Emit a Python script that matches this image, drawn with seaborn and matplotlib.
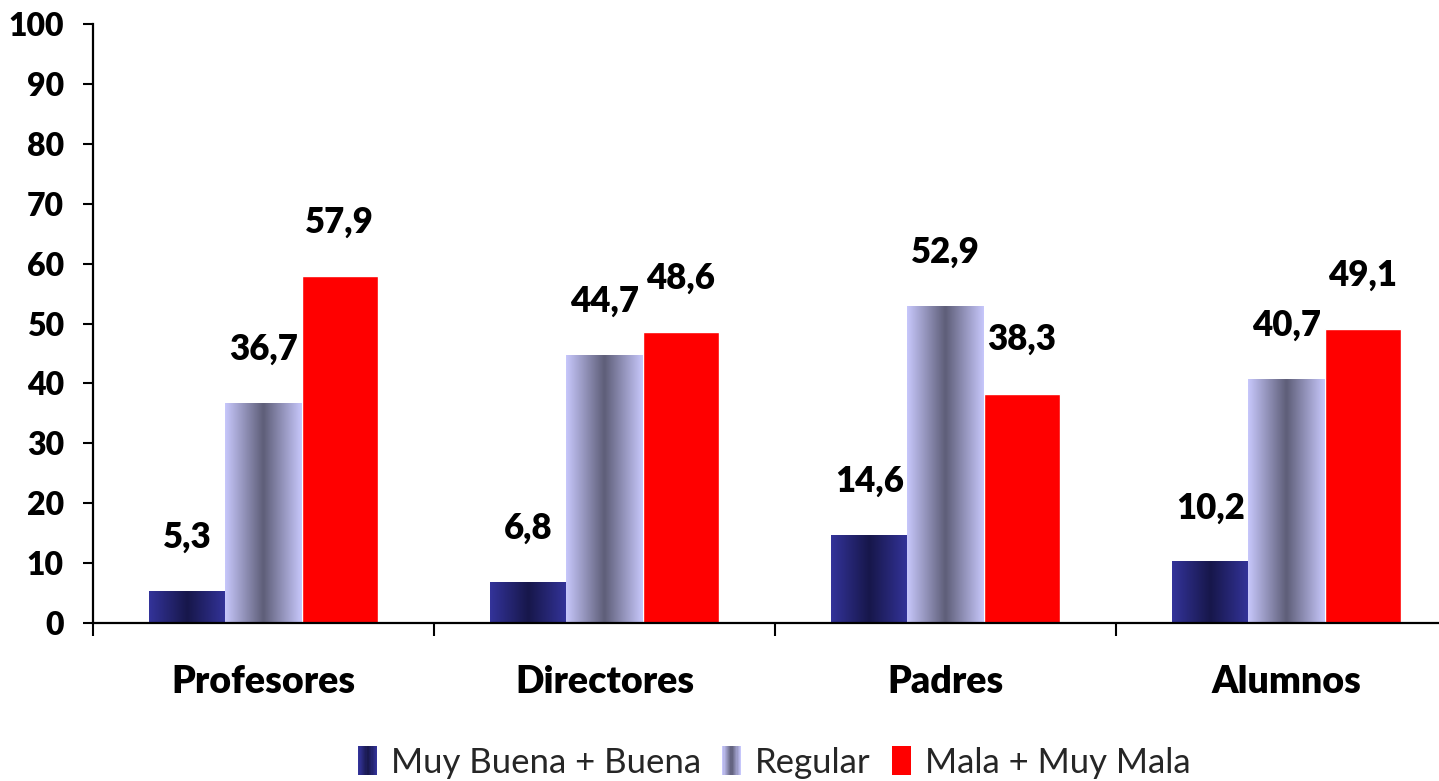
import numpy as np
import pandas as pd
import seaborn as sns
import matplotlib
matplotlib.use("Agg")
import matplotlib.pyplot as plt
from matplotlib.colors import to_rgb
from matplotlib.legend_handler import HandlerBase
from matplotlib.patches import Rectangle

categories = ["Profesores", "Directores", "Padres", "Alumnos"]
series = ["Muy Buena + Buena", "Regular", "Mala + Muy Mala"]
muy_buena = [5.3, 6.8, 14.6, 10.2]
regular = [36.7, 44.7, 52.9, 40.7]
mala = [57.9, 48.6, 38.3, 49.1]
yticks = list(range(0, 101, 10))

# gradient styles: (edge colour, centre colour) or None for plain
grad_specs = [("#333399", "#17174a"), ("#c6c6fa", "#5e5e78"), None]
flat_colors = ["#2a2a80", "#9a9ac0", "#ff0000"]

df = pd.DataFrame({
    "cat": categories * 3,
    "serie": [s for s in series for _ in categories],
    "val": muy_buena + regular + mala,
})

sns.set_theme(style="white")
plt.rcParams["font.family"] = ["Lato", "DejaVu Sans"]


def grad_colors(spec, n=64):
    e = np.array(to_rgb(spec[0]))
    c = np.array(to_rgb(spec[1]))
    t = np.linspace(0, 1, n)
    w = 1 - np.abs(2 * t - 1)
    return e[None, :] * (1 - w[:, None]) + c[None, :] * w[:, None]


fig = plt.figure(figsize=(14.39, 7.81), dpi=100)
ax = fig.add_axes([93 / 1439, 158 / 781, 1 - 93 / 1439, 599 / 781])

sns.barplot(data=df, x="cat", y="val", hue="serie", order=categories,
            hue_order=series, palette=flat_colors, width=0.67, gap=0,
            saturation=1, legend=False, ax=ax, zorder=2)

for i, cont in enumerate(ax.containers):
    spec = grad_specs[i]
    for bar in cont:
        x, w, h = bar.get_x(), bar.get_width(), bar.get_height()
        if spec is not None:
            img = grad_colors(spec)[None, :, :]
            ax.imshow(img, extent=[x, x + w, 0, h], aspect="auto",
                      interpolation="bilinear", zorder=3)
            bar.set_alpha(0)
        ax.text(x + w / 2, h + 9, f"{h:.1f}".replace(".", ","),
                ha="center", va="center", fontsize=25, fontweight="heavy",
                color="black", zorder=5)

ax.set_yticks(yticks)
ax.set_yticklabels([str(v) for v in yticks], fontsize=23, fontweight="heavy")
ax.set_xticks(range(len(categories)))
ax.set_xticklabels(categories, fontsize=27, fontweight="heavy")
ax.set_xticks([k - 0.5 for k in range(len(categories) + 1)], minor=True)
ax.set_xlim(-0.5, -0.5 + (1439 - 93) / 341)
ax.set_ylim(0, 100)
ax.set_autoscale_on(False)
ax.tick_params(axis="x", which="major", length=0, pad=30, colors="black")
ax.tick_params(axis="x", which="minor", length=9, width=1.5, direction="out",
               bottom=True, color="black")
ax.tick_params(axis="y", which="major", length=7, width=1.5, direction="out",
               left=True, pad=14, colors="black")
ax.set_xlabel("")
ax.set_ylabel("")
for s in ["top", "right"]:
    ax.spines[s].set_visible(False)
for s in ["left", "bottom"]:
    ax.spines[s].set_color("black")
    ax.spines[s].set_linewidth(1.6)
ax.spines["bottom"].set_zorder(6)


class GradHandler(HandlerBase):
    def __init__(self, spec, color):
        super().__init__()
        self.spec = spec
        self.color = color

    def create_artists(self, legend, orig_handle, xdescent, ydescent,
                       width, height, fontsize, trans):
        arts = []
        if self.spec is None:
            arts.append(Rectangle((-xdescent, -ydescent), width, height,
                                  facecolor=self.color, edgecolor="none",
                                  transform=trans))
        else:
            cols = grad_colors(self.spec, 16)
            n = len(cols)
            for k, c in enumerate(cols):
                arts.append(Rectangle((-xdescent + k * width / n, -ydescent),
                                      width / n * 1.05, height, facecolor=c,
                                      edgecolor="none", transform=trans))
        return arts


handles = [Rectangle((0, 0), 1, 1) for _ in series]
handler_map = {h: GradHandler(grad_specs[i], flat_colors[i])
               for i, h in enumerate(handles)}
fig.legend(handles, series, handler_map=handler_map, loc="lower center",
           bbox_to_anchor=(0.538, -0.037), ncol=3, frameon=False,
           fontsize=25, handlelength=0.55, handleheight=0.9,
           handletextpad=0.4, columnspacing=0.6)

fig.savefig("out.png", dpi=100)
